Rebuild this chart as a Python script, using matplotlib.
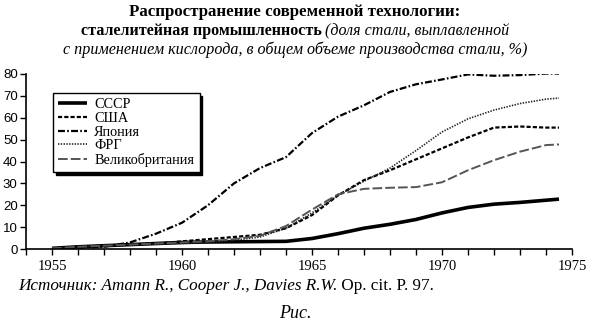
import matplotlib
matplotlib.use("Agg")
import matplotlib.pyplot as plt

plt.rcParams['lines.scale_dashes'] = False

years = [1955, 1956, 1957, 1958, 1959, 1960, 1961, 1962, 1963, 1964,
         1965, 1966, 1967, 1968, 1969, 1970, 1971, 1972, 1973, 1974, 1974.5]

ussr = [0.3, 1.0, 1.5, 2.0, 2.5, 3.0, 3.2, 3.3, 3.4, 3.5,
        4.8, 7.0, 9.5, 11.3, 13.5, 16.5, 19.0, 20.5, 21.3, 22.3, 22.8]
usa = [0.3, 1.0, 1.5, 2.0, 2.5, 3.5, 4.5, 5.5, 6.5, 9.5,
       15.5, 24.5, 31.5, 36.0, 41.0, 46.0, 51.0, 55.5, 56.0, 55.5, 55.5]
japan = [0.0, 0.5, 1.0, 3.0, 7.0, 12.0, 20.0, 30.0, 37.0, 42.0,
         53.0, 60.5, 65.7, 71.8, 75.3, 77.5, 79.8, 79.2, 79.5, 80.2, 80.2]
frg = [0.3, 1.0, 1.5, 2.0, 2.3, 2.5, 3.0, 4.0, 5.5, 9.5,
       16.5, 24.5, 31.0, 37.0, 45.0, 53.5, 59.5, 63.5, 66.5, 68.5, 69.0]
uk = [0.3, 1.0, 1.5, 2.0, 2.5, 3.0, 3.5, 4.5, 6.0, 10.5,
      18.0, 25.0, 27.5, 28.0, 28.3, 30.5, 36.0, 40.6, 44.5, 47.5, 47.8]

labels = ['СССР', 'США', 'Япония', 'ФРГ', 'Великобритания']
yticks = [0, 10, 20, 30, 40, 50, 60, 70, 80]
xlabel_years = [1955, 1960, 1965, 1970, 1975]

W, H = 590, 324
fig = plt.figure(figsize=(W / 100, H / 100), dpi=100)
ax = fig.add_axes([26 / W, 1 - 249 / H, (572 - 26) / W, (249 - 74) / H])

ax.plot(years, ussr, color='black', lw=2.6, solid_capstyle='butt', label=labels[0])
ax.plot(years, usa, color='black', lw=1.6, dashes=(3, 1.5), label=labels[1])
ax.plot(years, japan, color='black', lw=1.6, dashes=(5, 1.6, 1.2, 1.6), label=labels[2])
ax.plot(years, frg, color='#222222', lw=1.2, dashes=(1, 1), label=labels[3])
ax.plot(years, uk, color='#555555', lw=1.4, dashes=(7, 2.2), label=labels[4])

ax.set_xlim(1954, 1975)
ax.set_ylim(0, 80)
ax.set_yticks(yticks)
ax.set_yticklabels([str(v) for v in yticks], fontfamily='Liberation Sans', fontsize=9.5)
ax.set_xticks(list(range(1954, 1976)))
ax.set_xticklabels([str(y) if y in xlabel_years else '' for y in range(1954, 1976)],
                   fontfamily='Liberation Serif', fontsize=10.5)
ax.tick_params(axis='both', direction='out', length=4, width=1, color='black')
ax.tick_params(axis='x', pad=4)
ax.tick_params(axis='y', pad=2)
for s in ['top', 'right']:
    ax.spines[s].set_visible(False)
for s in ['left', 'bottom']:
    ax.spines[s].set_linewidth(1.2)

leg = ax.legend(loc='upper left', bbox_to_anchor=(53 / W, 1 - 93 / H),
                bbox_transform=fig.transFigure,
                prop={'family': 'Liberation Serif', 'size': 10.3},
                frameon=True, fancybox=False, edgecolor='black',
                shadow={'color': 'black', 'alpha': 1.0},
                handlelength=2.0, labelspacing=0.04, borderpad=0.38,
                handletextpad=0.5, borderaxespad=0)
leg.get_frame().set_linewidth(1.0)
leg.get_frame().set_alpha(1.0)

serif = 'Liberation Serif'
fig.text(0.5, 1 - 12 / H, 'Распространение современной технологии:',
         ha='center', va='center', fontfamily=serif, fontweight='bold', fontsize=12.2)

fig.canvas.draw()
r = fig.canvas.get_renderer()
t1 = fig.text(0, 1 - 31 / H, 'сталелитейная промышленность', ha='left', va='center',
              fontfamily=serif, fontweight='bold', fontsize=11.5)
t2 = fig.text(0, 1 - 31 / H, ' (доля стали, выплавленной', ha='left', va='center',
              fontfamily=serif, fontstyle='italic', fontsize=11.5)
w1 = t1.get_window_extent(r).width
w2 = t2.get_window_extent(r).width
x0 = (W - (w1 + w2)) / 2
t1.set_x(x0 / W)
t2.set_x((x0 + w1) / W)

fig.text(0.5, 1 - 50 / H, 'с применением кислорода, в общем объеме производства стали, %)',
         ha='center', va='center', fontfamily=serif, fontstyle='italic', fontsize=11.6)

s1 = fig.text(18 / W, 1 - 286 / H, 'Источник: Amann R., Cooper J., Davies R.W.',
              ha='left', va='center', fontfamily=serif, fontstyle='italic', fontsize=12.3)
ws = s1.get_window_extent(r).width
fig.text((18 + ws) / W, 1 - 286 / H, ' Op. cit. P. 97.', ha='left', va='center',
         fontfamily=serif, fontsize=12.3)

fig.text(0.5, 1 - 313 / H, 'Рис.', ha='center', va='center', fontfamily=serif,
         fontstyle='italic', fontsize=13)

fig.savefig('out.png', dpi=100)
